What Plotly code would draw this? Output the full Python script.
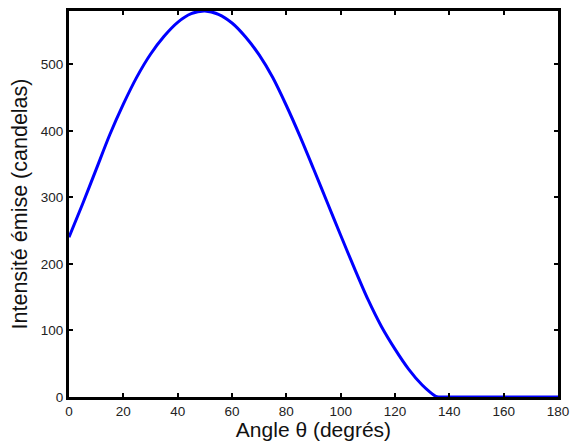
import plotly.graph_objects as go

theta = [0, 5, 10, 15, 20, 25, 30, 35, 40, 45, 50, 55, 60, 65, 70, 75, 80, 85, 90,
         95, 100, 105, 110, 115, 120, 125, 130, 133, 135, 136, 140, 150, 160, 170, 180]
intensity = [240, 290, 342, 394, 440, 481, 515, 542, 563, 576, 580, 575, 562, 541, 514, 480, 438, 392, 343,
             293, 243, 194, 147, 106, 72, 42, 18, 7, 1, 0, 0, 0, 0, 0, 0]

x_ticks = [0, 20, 40, 60, 80, 100, 120, 140, 160, 180]
y_ticks = [0, 100, 200, 300, 400, 500]

FONT = "Liberation Sans, Arial, sans-serif"

fig = go.Figure()
fig.add_trace(go.Scatter(
    x=theta, y=intensity, mode="lines",
    line=dict(color="#0000ff", width=3, shape="spline", smoothing=0.8),
    hoverinfo="skip", showlegend=False, cliponaxis=True,
))

axis_common = dict(
    showline=True, linecolor="black", linewidth=3, mirror="ticks",
    ticks="inside", ticklen=4, tickwidth=2, tickcolor="black",
    showgrid=False, zeroline=False, automargin=False,
    tickfont=dict(family=FONT, size=13.5, color="#222"),
)

fig.update_layout(
    width=571, height=441,
    margin=dict(l=69, r=13, t=11, b=44),
    paper_bgcolor="white", plot_bgcolor="white",
    xaxis=dict(range=[0, 180], tickvals=x_ticks,
               title=dict(text="Angle θ (degrés)", standoff=3,
                          font=dict(family=FONT, size=21, color="#111")),
               **axis_common),
    yaxis=dict(range=[0, 580], tickvals=y_ticks,
               title=dict(text="Intensité émise (candelas)", standoff=8,
                          font=dict(family=FONT, size=21.5, color="#111")),
               **axis_common),
)

fig.write_html(
    "out.html",
    config={"displayModeBar": False},
    post_script="document.body.style.margin='0';document.body.style.overflow='hidden';",
)
